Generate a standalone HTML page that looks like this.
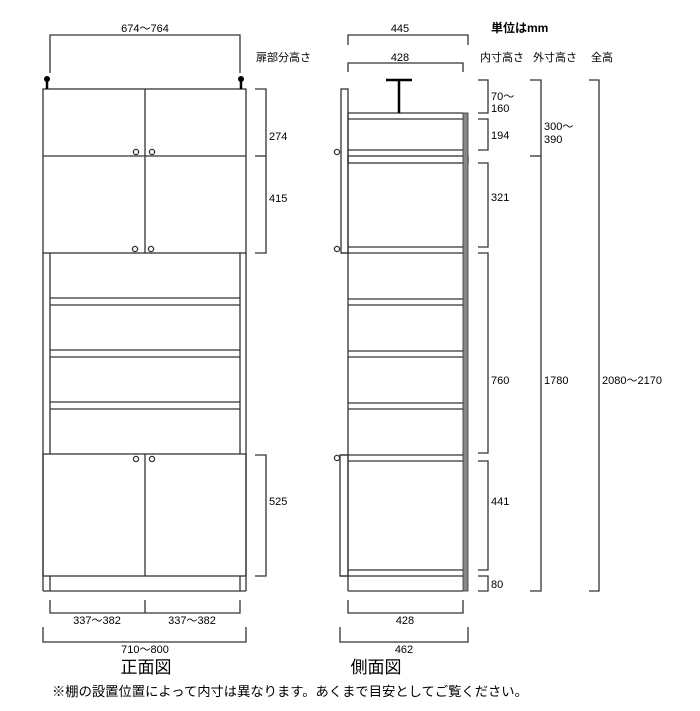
<!DOCTYPE html>
<html><head><meta charset="utf-8"><style>
html,body{margin:0;padding:0;background:#fff;width:700px;height:711px;overflow:hidden}
text{font-family:"Liberation Sans","Noto Sans CJK JP",sans-serif;fill:#000}
</style></head><body>
<svg width="700" height="711" viewBox="0 0 700 711" xmlns="http://www.w3.org/2000/svg">
<g stroke="#333" stroke-width="1.3" fill="none">
<polyline points="50,73 50,35 240,35 240,73"/>
<rect x="43" y="89" width="203" height="164"/>
<line x1="43" y1="156" x2="246" y2="156"/>
<line x1="145" y1="89" x2="145" y2="253"/>
<line x1="43" y1="253" x2="43" y2="591"/>
<line x1="246" y1="253" x2="246" y2="591"/>
<line x1="50" y1="253" x2="50" y2="454"/>
<line x1="240" y1="253" x2="240" y2="454"/>
<line x1="50" y1="298" x2="240" y2="298"/><line x1="50" y1="305" x2="240" y2="305"/>
<line x1="50" y1="350" x2="240" y2="350"/><line x1="50" y1="357" x2="240" y2="357"/>
<line x1="50" y1="402" x2="240" y2="402"/><line x1="50" y1="409" x2="240" y2="409"/>
<rect x="43" y="454" width="203" height="122"/>
<line x1="145" y1="454" x2="145" y2="576"/>
<line x1="43" y1="591" x2="246" y2="591"/>
<line x1="50" y1="576" x2="50" y2="591"/><line x1="240" y1="576" x2="240" y2="591"/>
<circle cx="136" cy="152" r="2.6"/><circle cx="152" cy="152" r="2.6"/>
<circle cx="135" cy="249" r="2.6"/><circle cx="151" cy="249" r="2.6"/>
<circle cx="136" cy="459" r="2.6"/><circle cx="152" cy="459" r="2.6"/>
<polyline points="255,89 266,89 266,253 255,253"/>
<line x1="255" y1="156" x2="266" y2="156"/>
<polyline points="255,455 266,455 266,576 255,576"/>
<polyline points="50,600 50,613 240,613 240,600"/><line x1="145" y1="600" x2="145" y2="613"/>
<polyline points="43,627 43,642 246,642 246,627"/>
<polyline points="348,45 348,35 468,35 468,45"/>
<polyline points="348,72 348,63 463,63 463,72"/>
<rect x="341" y="89" width="7" height="164"/>
<rect x="340" y="455" width="8" height="121"/>
<line x1="348" y1="113" x2="348" y2="591"/>
<line x1="348" y1="113" x2="463" y2="113"/><line x1="348" y1="119" x2="463" y2="119"/>
<line x1="348" y1="150" x2="463" y2="150"/>
<rect x="348" y="156" width="120" height="7"/>
<line x1="348" y1="247" x2="463" y2="247"/><line x1="341" y1="253" x2="463" y2="253"/>
<line x1="348" y1="299" x2="463" y2="299"/><line x1="348" y1="305" x2="463" y2="305"/>
<line x1="348" y1="351" x2="463" y2="351"/><line x1="348" y1="357" x2="463" y2="357"/>
<line x1="348" y1="403" x2="463" y2="403"/><line x1="348" y1="409" x2="463" y2="409"/>
<line x1="340" y1="455" x2="463" y2="455"/><line x1="348" y1="461" x2="463" y2="461"/>
<line x1="348" y1="570" x2="463" y2="570"/><line x1="340" y1="576" x2="463" y2="576"/>
<line x1="348" y1="591" x2="463" y2="591"/>
<circle cx="337" cy="152" r="2.6"/><circle cx="337" cy="249" r="2.6"/><circle cx="337" cy="458" r="2.6"/>
<polyline points="478,80 488,80 488,113 478,113"/>
<polyline points="478,119 488,119 488,150 478,150"/>
<polyline points="478,163 488,163 488,247 478,247"/>
<polyline points="478,253 488,253 488,453 478,453"/>
<polyline points="478,461 488,461 488,570 478,570"/>
<polyline points="478,576 488,576 488,591 478,591"/>
<polyline points="530,80 541,80 541,591 530,591"/>
<line x1="530" y1="156" x2="541" y2="156"/>
<polyline points="589,80 599,80 599,591 589,591"/>
<polyline points="348,600 348,613 463,613 463,600"/>
<polyline points="340,627 340,642 468,642 468,627"/>
</g>
<rect x="463" y="113" width="5" height="478" fill="#888" stroke="#333" stroke-width="0.8"/>
<g stroke="#000" stroke-width="2.5"><line x1="47" y1="79" x2="47" y2="89"/><line x1="241" y1="79" x2="241" y2="89"/>
<line x1="386" y1="80" x2="412" y2="80"/><line x1="399" y1="80" x2="399" y2="113"/></g>
<circle cx="47" cy="79" r="3" fill="#000"/><circle cx="241" cy="79" r="3" fill="#000"/>
<g font-size="11">
<text x="145" y="32" text-anchor="middle">674～764</text>
<text x="256" y="61">扉部分高さ</text>
<text x="269" y="140">274</text><text x="269" y="202">415</text><text x="269" y="505">525</text>
<text x="97" y="624" text-anchor="middle">337～382</text><text x="192" y="624" text-anchor="middle">337～382</text>
<text x="145" y="653" text-anchor="middle">710～800</text>
<text x="400" y="32" text-anchor="middle">445</text>
<text x="400" y="61" text-anchor="middle">428</text>
<text x="480" y="61">内寸高さ</text><text x="533" y="61">外寸高さ</text><text x="591" y="61">全高</text>
<text x="491" y="100">70～</text><text x="491" y="112">160</text>
<text x="491" y="139">194</text><text x="491" y="201">321</text><text x="491" y="384">760</text>
<text x="491" y="505">441</text><text x="491" y="588">80</text>
<text x="544" y="130">300～</text><text x="544" y="143">390</text>
<text x="544" y="384">1780</text><text x="602" y="384">2080～2170</text>
<text x="405" y="624" text-anchor="middle">428</text>
<text x="404" y="653" text-anchor="middle">462</text>
</g>
<text x="491" y="32" font-size="12" font-weight="bold">単位はmm</text>
<text x="146" y="673" font-size="17" text-anchor="middle">正面図</text>
<text x="376" y="673" font-size="17" text-anchor="middle">側面図</text>
<text x="52" y="696" font-size="13.3">※棚の設置位置によって内寸は異なります。あくまで目安としてご覧ください。</text>
</svg>
</body></html>
